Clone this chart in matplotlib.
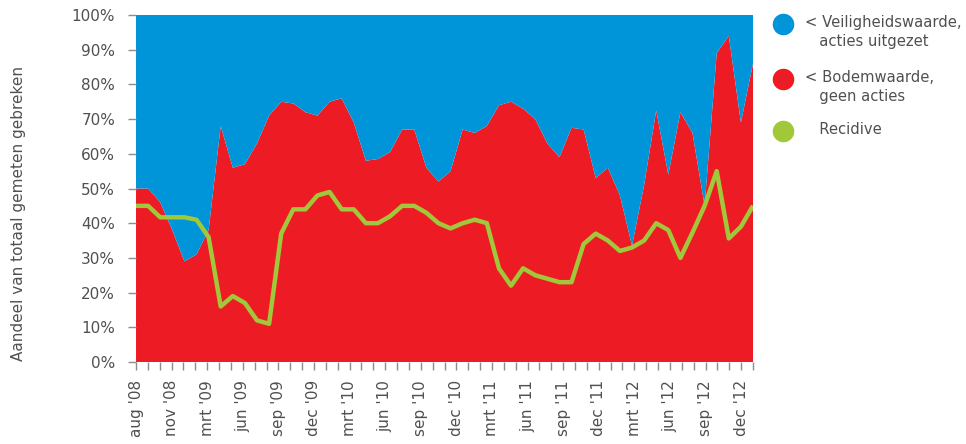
import matplotlib
matplotlib.use("Agg")
import matplotlib.pyplot as plt
from matplotlib.lines import Line2D
import numpy as np

# aandeel (%) per meting, 52 metingen van aug '08 t/m dec '12
bodem = [50, 50, 46, 38, 29, 31, 38, 68, 56, 57, 63, 71, 75, 74.5, 72, 71,
         75, 76, 69, 58, 58.5, 60.5, 67, 67, 56, 52, 55, 67, 66, 68, 74, 75,
         73, 70, 63, 59, 67.5, 67, 53, 56, 48, 33.5, 51, 72.5, 54, 72, 66, 45,
         89, 94, 69, 86]
recidive = [45, 45, 41.7, 41.7, 41.7, 41, 36, 16, 19, 17, 12, 11, 37, 44, 44,
            48, 49, 44, 44, 40, 40, 42, 45, 45, 43, 40, 38.5, 40, 41, 40, 27,
            22, 27, 25, 24, 23, 23, 34, 37, 35, 32, 33, 35, 40, 38, 30, 37.3,
            45, 55, 35.6, 39, 45]
maand_labels = ["aug '08", "nov '08", "mrt '09", "jun '09", "sep '09",
                "dec '09", "mrt '10", "jun '10", "sep '10", "dec '10",
                "mrt '11", "jun '11", "sep '11", "dec '11", "mrt '12",
                "jun '12", "sep '12", "dec '12"]
legenda = ["< Veiligheidswaarde,\n   acties uitgezet",
           "< Bodemwaarde,\n   geen acties",
           "   Recidive"]

blauw = "#0095D9"
rood = "#ED1C24"
groen = "#A0C83A"
grijs = "#8C8C8C"
tekst = "#505050"

plt.rcParams["font.family"] = ["DejaVu Sans"]

fig = plt.figure(figsize=(9.66, 4.44), dpi=100)
ax = fig.add_axes([0.1408, 0.1847, 0.6387, 0.7815])

x = np.arange(len(bodem))
bodem = np.array(bodem)
veilig = 100 - bodem

ax.stackplot(x, bodem, veilig, colors=[rood, blauw], linewidth=0)
ax.plot(x, recidive, color=groen, lw=3.2, solid_joinstyle="round",
        solid_capstyle="butt")

ax.set_xlim(0, len(bodem) - 1)
ax.set_ylim(0, 100)

# maandticks: 53 streepjes, label op elk derde
ticks = np.linspace(0, len(bodem) - 1, 53)
ax.set_xticks(ticks[::3][:len(maand_labels)])
ax.set_xticklabels(maand_labels, rotation=90, ha="center", va="top")
ax.set_xticks(ticks, minor=True)
ax.tick_params(axis="x", which="both", length=6, width=1, color=grijs,
               pad=7, labelsize=11, labelcolor=tekst)

ax.set_yticks(np.arange(0, 101, 10))
ax.set_yticklabels([f"{v}%" for v in range(0, 101, 10)])
ax.tick_params(axis="y", length=6, width=1, color=grijs, pad=9,
               labelsize=11, labelcolor=tekst)

for s in ax.spines.values():
    s.set_visible(False)

fig.text(0.019, 0.52, "Aandeel van totaal gemeten gebreken", rotation=90,
         ha="center", va="center", fontsize=11, color=tekst)

# legenda
ys = [0.946, 0.822, 0.705]
for kleur, label, yy in zip([blauw, rood, groen], legenda, ys):
    fig.add_artist(Line2D([0.8105], [yy], marker="o", markersize=14.5,
                          color=kleur, linestyle="none",
                          transform=fig.transFigure))
    fig.text(0.833, yy + 0.021, label, ha="left", va="top", fontsize=10.6,
             color=tekst, linespacing=1.35)

fig.savefig("out.png", dpi=100)
